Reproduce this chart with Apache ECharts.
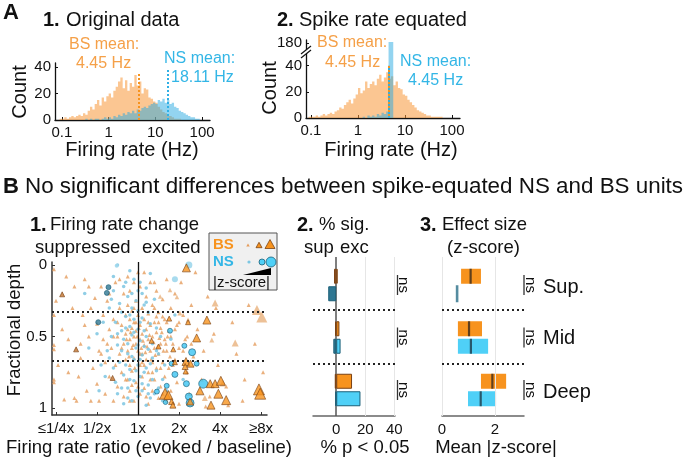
<!DOCTYPE html>
<html><head><meta charset="utf-8">
<script src="https://cdn.jsdelivr.net/npm/echarts@6/dist/echarts.min.js"></script>
<style>html,body{margin:0;padding:0;background:#fff}#c{width:697px;height:458px}</style>
</head><body><div id="c"></div><script>
// ---------------- DATA ----------------
const BIN_W = 0.05;                 // histogram bin width (log10 Hz)
const histTickHz = [0.1, 1, 10, 100];
const bsOrigStart = -1.10;
const bsOrigCounts = [0,1,1,2,1,2,3,2,3,4,3,5,4,7,10,8,12,15,11,17,14,18,20,17,22,25,29,32,24,30,22,28,25,34,26,29,20,24,23,17,16,14,13,10,8,6,5,3,3,2,1,1,1,0];
const nsOrigStart = -0.50;
const nsOrigCounts = [1,0,1,0,1,1,0,1,2,1,2,1,3,2,4,3,5,4,6,5,7,5,8,7,9,10,9,11,12,13,12,15,14,16,13,15,12,13,10,9,7,6,5,4,3,2,2,1,1,0];
const bsEqStart = -1.10;
const bsEqCounts = [0,1,1,1,2,1,2,3,2,3,4,3,5,6,8,7,10,12,14,11,15,18,23,19,21,28,23,26,28,25,30,33,28,31,35,30,32,25,28,23,22,18,17,14,12,10,8,6,5,4,3,2,2,1,1,1,1,1,0];
const nsEqStart = 0.10;
const nsEqCounts = [1,0,2,1,2,1,3,2,4,3,5,181,181,0];
const bsMeanHz = 4.45, nsMeanOrigHz = 18.11, nsMeanEqHz = 4.45;

// B1 scatter: [log2(evoked/baseline), fractional depth] ; sig / large ones carry |z| as third value
const ratioTicks = [-2,-1,0,1,2,3];
const ratioTickLabels = ['≤1/4x','1/2x','1x','2x','4x','≥8x'];
const depthTicks = [0, 0.5, 1];
const layerBounds = [1/3, 2/3];
const bsNonSig = [
[-2.05,0.03],[-2.05,0.35],[-2.05,0.56],[-2.05,0.59],[-2.05,0.80],[-2.05,0.82],[-2.0,0.25],[-1.95,0.70],[-1.85,0.45],[-1.75,0.08],
[-1.7,0.52],[-1.6,0.30],[-1.55,0.15],[-1.5,0.95],[-1.45,0.78],[-1.4,0.65],[-1.35,0.35],[-1.3,0.10],[-1.25,0.88],[-1.2,0.50],
[-1.15,0.95],[-1.1,0.72],[-1.05,0.23],[-1.0,0.41],[-1.0,0.83],[-0.95,0.60],[-1.55,0.93],[-1.8,0.94],[-1.3,0.42],[-1.15,0.30],
[-0.9,0.15],[-0.85,0.35],[-0.85,0.52],[-0.8,0.68],[-0.8,0.90],[-0.75,0.25],[-0.7,0.45],[-0.7,0.78],[-0.65,0.58],[-0.6,0.38],
[-0.6,0.95],[-0.55,0.12],[-0.55,0.70],[-0.5,0.50],[-0.5,0.85],[-0.45,0.30],[-0.45,0.62],[-0.4,0.42],[-0.4,0.75],[-0.35,0.20],
[-0.35,0.55],[-0.35,0.92],[-0.3,0.35],[-0.3,0.66],[-0.3,0.48],
[-0.25,0.08],[-0.25,0.28],[-0.25,0.45],[-0.25,0.60],[-0.25,0.80],[-0.2,0.18],[-0.2,0.38],[-0.2,0.52],[-0.2,0.70],[-0.2,0.88],
[-0.15,0.32],[-0.15,0.44],[-0.15,0.58],[-0.15,0.74],[-0.1,0.12],[-0.1,0.40],[-0.1,0.50],[-0.1,0.65],[-0.1,0.95],[-0.05,0.25],
[-0.05,0.46],[-0.05,0.55],[-0.05,0.82],[0,0.35],[0,0.60],[0.05,0.15],[0.05,0.42],[0.05,0.52],[0.05,0.70],[0.05,0.90],
[0.1,0.30],[0.1,0.48],[0.1,0.62],[0.1,0.78],[0.15,0.05],[0.15,0.38],[0.15,0.56],[0.15,0.86],[0.2,0.22],[0.2,0.45],
[0.2,0.66],[0.25,0.34],[0.25,0.52],[0.25,0.75],[0.25,0.97],[0.3,0.12],[0.3,0.42],[0.3,0.60],
[-0.28,0.52],[-0.22,0.64],[-0.18,0.47],[-0.12,0.56],[-0.08,0.72],[-0.02,0.50],[0.02,0.44],[0.08,0.58],[0.12,0.53],[0.18,0.61],
[0.22,0.57],[0.28,0.49],[0.32,0.66],[0.38,0.54],[0.42,0.63],[0.48,0.57],[0.52,0.51],[0.58,0.47],[0.62,0.60],[0.68,0.55],
[0.72,0.50],[0.78,0.64],[0.05,0.62],[-0.05,0.40],[0.15,0.70],[0.35,0.75],[0.45,0.36],[0.25,0.40],[-0.15,0.84],[0.55,0.72],
[0.35,0.28],[0.35,0.50],[0.35,0.68],[0.35,0.88],[0.4,0.40],[0.4,0.58],[0.4,0.80],[0.45,0.18],[0.45,0.47],[0.45,0.72],
[0.5,0.33],[0.5,0.62],[0.5,0.93],[0.55,0.44],[0.55,0.55],[0.55,0.85],[0.6,0.24],[0.6,0.68],[0.65,0.38],[0.65,0.52],
[0.65,0.78],[0.7,0.10],[0.7,0.60],[0.7,0.95],[0.75,0.46],[0.75,0.72],[0.8,0.30],[0.8,0.88],[0.85,0.55],[0.9,0.20],
[0.9,0.66],[0.95,0.42],[0.95,0.82],[1.0,0.58],[1.0,0.97],
[1.05,0.12],[1.1,0.35],[1.15,0.52],[1.2,0.75],[1.25,0.90],[1.3,0.28],[1.35,0.64],[1.4,0.05],[1.45,0.45],[1.55,0.80],
[1.6,0.60],[1.7,0.22],[1.75,0.92],[1.85,0.48],[1.95,0.70],[2.05,0.15],[2.15,0.85],[2.3,0.40],[2.4,0.62],[2.55,0.95],
[2.7,0.28],[2.85,0.55],[3.0,0.10],[3.05,0.75],[2.2,0.98],[1.65,0.99],[2.6,0.80],[1.9,0.30],
[-0.9,0.62],[-0.75,0.55],[-0.6,0.50],[-0.5,0.40],[-0.4,0.58],[-0.3,0.80],[-0.2,0.95],[-0.1,0.30],[0.0,0.85],[0.1,0.68],
[0.2,0.92],[0.3,0.80],[0.4,0.30],[0.5,0.40],[0.6,0.36],[0.7,0.40],[0.8,0.50],[0.85,0.70],[0.9,0.45],[1.0,0.40],
[1.1,0.60],[1.2,0.50],[1.3,0.55],[0.6,0.90],[-0.7,0.20],[-0.45,0.10],[0.0,0.05],[0.4,0.12],[-1.4,0.55],[-1.7,0.75],
[-1.2,0.15],[-0.95,0.95]];
const bsNonSigLarge = [[1.88,0.266,5],[2.37,0.545,5],[2.90,0.315,8],[3.02,0.364,9],[1.80,0.524,3],[2.07,0.825,5],[1.63,0.93,4],[1.22,0.385,3],[1.02,0.336,3],[0.95,0.224,2.5],[0.78,0.175,2.5],[0.54,0.22,2.5]];
const bsSig = [[1.18,0.02,6],[1.68,0.385,6],[1.43,0.51,6],[1.17,0.675,6],[1.15,0.71,4],[1.28,0.69,5],[1.16,0.745,3],[1.76,0.83,6],[1.88,0.83,6],[2.02,0.81,7],
[1.51,0.88,6],[1.96,0.90,7],[2.15,0.945,7],[1.78,0.98,6],[2.95,0.87,9],[2.98,0.90,9],[0.66,0.90,9],[0.74,0.91,7],[0.82,0.955,4],[1.27,0.955,5],
[0.85,0.98,4],[-1.85,0.205,3],[-1.51,0.59,3],[-0.62,0.79,3],[1.22,0.40,3],[0.76,0.375,3],[0.33,0.53,3],[0.86,0.59,3],[0.50,0.57,3],[0.90,0.68,3]];
const nsNonSig = [
[-0.5,0.0],[-0.2,0.04],[0.3,0.06],[-0.1,0.1],[0.05,0.12],[-0.35,0.15],[0.2,0.16],[-0.6,0.18],[0.1,0.2],[-0.25,0.22],
[-0.05,0.25],[0.4,0.24],[-0.45,0.27],[0.15,0.28],[-0.15,0.3],[0.0,0.32],[-0.7,0.3],[0.25,0.33],
[-0.3,0.36],[-0.1,0.38],[0.1,0.37],[-0.55,0.4],[0.3,0.41],[-0.2,0.43],[0.0,0.45],[-0.4,0.46],[0.45,0.44],[-0.65,0.5],
[-0.15,0.49],[0.2,0.5],[-0.35,0.52],[0.05,0.53],[0.35,0.55],[-0.5,0.56],[-0.05,0.58],[0.25,0.59],[-0.75,0.6],[-0.25,0.62],
[0.1,0.63],[0.5,0.62],[-0.1,0.66],
[-0.45,0.68],[0.0,0.7],[0.3,0.69],[-0.6,0.72],[-0.2,0.73],[0.15,0.75],[0.45,0.74],[-0.35,0.77],[0.05,0.78],[0.35,0.8],
[-0.1,0.81],[-0.8,0.78],[0.25,0.84],[-0.25,0.86],[0.5,0.86],[0.1,0.88],[-0.5,0.9],[0.0,0.92],[0.3,0.93],[-0.15,0.95],
[0.6,0.95],[0.2,0.98],[-0.35,0.97],[0.7,0.88],[0.65,0.70],[0.8,0.52],
[-1.2,0.58],[-1.0,0.48],[-0.9,0.7],[-1.3,0.2],[1.1,0.8],[0.9,0.35],[-0.95,0.88],
[-0.6,0.08],[-0.3,0.12],[0.0,0.18],[-0.15,0.2],[0.2,0.26],[-0.4,0.33],[-0.2,0.35],[0.05,0.4],[-0.3,0.44],[-0.1,0.47],
[0.15,0.46],[-0.5,0.48],[-0.25,0.55],[0.0,0.56],[0.15,0.57],[-0.4,0.6],[-0.15,0.64],[0.05,0.66],[0.35,0.65],[-0.3,0.7],
[-0.05,0.74],[0.2,0.72],[-0.55,0.82],[-0.2,0.8],[0.1,0.83],[0.4,0.9],[-0.4,0.86],[-0.05,0.88],[0.25,0.9],[-0.25,0.93],
[0.45,0.6],[0.55,0.5],[0.6,0.8],[-0.7,0.65],[-0.85,0.4],[-0.65,0.24]];
const nsNonSigLarge = [[1.24,0.0,5],[0.9,0.1,4],[-0.52,0.005,2]];
const nsSig = [[0.78,0.46,3],[1.13,0.565,3],[1.32,0.61,5],[1.43,0.69,3],[0.82,0.69,3],[0.90,0.765,4],[1.18,0.83,4],[1.59,0.83,7],
[0.70,0.845,3],[0.46,0.885,3],[1.24,0.92,5],[1.27,0.965,6],[0.67,0.96,2.5],[-0.72,0.155,3],[-0.76,0.195,3],[-0.97,0.40,3]];

// B2 : % significant (sup = suppressed, exc = excited)
const layerNames = ['Sup.','Mid','Deep'];
const bsPctSup = [1.5, 0.8, 1.0];
const bsPctExc = [1.0, 2.2, 10.9];
const nsPctSup = [5.5, 2.0, 0.5];
const nsPctExc = [0, 3.0, 16.7];
const pctTicks = [0, 20, 40];
// B3 : effect size, mean |z| with CI
const bsZMean = [1.08, 1.02, 1.90];
const bsZLo   = [0.72, 0.60, 1.47];
const bsZHi   = [1.47, 1.51, 2.42];
const nsZMean = [0.57, 1.09, 1.46];
const nsZLo   = [null, 0.60, 0.98];
const nsZHi   = [null, 1.74, 2.04];
const zTicks = [0, 2];

// ---------------- STYLE ----------------
const FONT = "'Liberation Sans', Arial, Helvetica, sans-serif";
const C = {
  bsArea:'rgba(247,152,56,0.55)', nsArea:'rgba(40,170,225,0.5)',
  bsText:'#f5a048', nsText:'#33b6e6',
  bs:'#f7931e', bsDark:'#c2722a', bsBorder:'#7a4214',
  ns:'#4fd0f7', nsDark:'#2f7792', nsBorder:'#1b5f78',
  bsTiny:'#e59c5c', nsTiny:'#7cc6e2', bsLight:'#ebba8c', nsLight:'#9fd7ec'
};
const chart = echarts.init(document.getElementById('c'), null, {renderer:'canvas'});

function stepData(start, counts){
  const d = counts.map((c,i)=>[start + i*BIN_W, c]);
  d.push([start + counts.length*BIN_W, 0]);
  return d;
}
const L10 = Math.log10;
// histogram drawn as one stepped polygon through the axis scales
function histSeries(xi, yi, start, counts, color){
  const pts = stepData(start, counts);
  return {type:'custom', xAxisIndex:xi, yAxisIndex:yi, data:pts, silent:true, z:2, encode:{x:0, y:1},
    renderItem:(params, api)=>{
      if (params.dataIndex !== 0) return null;
      const cs = params.coordSys;
      const cy = y => Math.max(cs.y, Math.min(cs.y + cs.height, y));
      const poly = [];
      const b0 = api.coord([pts[0][0], 0]); poly.push([b0[0], cy(b0[1])]);
      for (let i = 0; i < pts.length - 1; i++){
        const a = api.coord([pts[i][0], pts[i][1]]);
        const b = api.coord([pts[i+1][0], pts[i][1]]);
        poly.push([a[0], cy(a[1])], [b[0], cy(b[1])]);
      }
      const e = api.coord([pts[pts.length-1][0], 0]); poly.push([e[0], cy(e[1])]);
      return {type:'polygon', shape:{points:poly}, style:{fill:color}};
    }};
}
function vline(x, y0, y1, color, offset){
  return [{coord:[x,y0], lineStyle:{color, width:2, type:[2,2], dashOffset:offset||0}}, {coord:[x,y1]}];
}
const mlBase = {silent:true, symbol:['none','none'], label:{show:false}, animation:false};
function markSeries(xi, yi, data){
  return {type:'line', xAxisIndex:xi, yAxisIndex:yi, data:[[0,0]], symbol:'none', showSymbol:false,
    lineStyle:{opacity:0, width:0}, silent:true, z:5, markLine:Object.assign({}, mlBase, {data})};
}
const axLine = {show:true, onZero:false, lineStyle:{color:'#111', width:1.3}};
function histX(gi, min){
  return {gridIndex:gi, type:'value', min, max:2.17,
    axisLine:axLine, splitLine:{show:false},
    axisTick:{show:true, inside:true, length:3, customValues:histTickHz.map(L10), lineStyle:{color:'#111'}},
    axisLabel:{customValues:histTickHz.map(L10), formatter:v=>String(histTickHz[Math.round(v)+1]), fontSize:15, fontFamily:FONT, color:'#111', margin:5}};
}
function valY(gi, min, max, ticks){
  return {gridIndex:gi, type:'value', min, max, axisLine:axLine, splitLine:{show:false},
    axisTick:{show:true, inside:true, length:3, customValues:ticks, lineStyle:{color:'#111'}},
    axisLabel:{customValues:ticks, fontSize:15, fontFamily:FONT, color:'#111', margin:4}};
}

// B2 / B3 rows
const rowCats = ['Sup BS','Sup NS','g1','Mid BS','Mid NS','g2','Deep BS','Deep NS'];
function item(v, color, border){ return v === 0 ? '-' : {value:v, itemStyle:{color, borderColor:border, borderWidth:1}}; }
const b2Sup = [], b2Exc = [], b3Base = [], b3Span = [], b3Mean = [];
layerNames.forEach((n,i)=>{
  const r0 = b2Sup.length;
  b2Sup.push(item(-bsPctSup[i], C.bsDark, C.bsBorder)); b2Exc.push(item(bsPctExc[i], C.bs, C.bsBorder));
  b2Sup.push(item(-nsPctSup[i], C.nsDark, C.nsBorder)); b2Exc.push(item(nsPctExc[i], C.ns, C.nsBorder));
  b3Base.push(bsZLo[i]); b3Span.push({value:bsZHi[i]-bsZLo[i], itemStyle:{color:C.bs}});
  b3Base.push(nsZLo[i]===null?'-':nsZLo[i]);
  b3Span.push(nsZLo[i]===null?'-':{value:nsZHi[i]-nsZLo[i], itemStyle:{color:C.ns}});
  b3Mean.push({value:[bsZMean[i], r0], itemStyle:{color:'#3a2a1c'}, symbolSize:[2.2,15]});
  b3Mean.push({value:[nsZMean[i], r0+1], itemStyle:{color: nsZLo[i]===null ? '#2b6f88' : '#1d3a48'}, symbolSize: nsZLo[i]===null ? [2.6,17] : [2.2,15]});
  if (i < layerNames.length-1){ b2Sup.push('-'); b2Exc.push('-'); b3Base.push('-'); b3Span.push('-'); }
});

const dotStyle = {color:'#222', width:2, type:[2,3]};
const hLines = layerBounds.map(v=>({yAxis:v, lineStyle:dotStyle}));

// ---------------- GRAPHICS (text) ----------------
function T(x, y, s, size, o){
  o = o || {};
  return {type:'text', x, y, rotation:o.rot||0, z:100, silent:true,
    style:{text:s, x:0, y:0, fontSize:size, fontFamily:FONT, fontWeight:o.bold?'bold':'normal',
      fill:o.color||'#111', align:o.align||'left', verticalAlign:'middle'}};
}
function Ln(x1,y1,x2,y2,w,c){ return {type:'line', z:100, silent:true, shape:{x1,y1,x2,y2}, style:{stroke:c||'#333', lineWidth:w||1.5}}; }
function Tri(cx, cy, s, fill, stroke){
  const h = s*0.9;
  return {type:'polygon', z:101, silent:true, shape:{points:[[cx, cy-h/2],[cx+s/2, cy+h/2],[cx-s/2, cy+h/2]]}, style:{fill, stroke:stroke||null, lineWidth:stroke?0.8:0}};
}
function Cir(cx, cy, r, fill, stroke){ return {type:'circle', z:101, silent:true, shape:{cx,cy,r}, style:{fill, stroke:stroke||null, lineWidth:stroke?0.8:0}}; }

const graphics = [
  T(3,13,'A',22,{bold:true}),
  T(43,20,'1.',20,{bold:true}), T(66,20,'Original data',20),
  T(69,45,'BS mean:',16,{color:C.bsText}), T(76,64,'4.45 Hz',16,{color:C.bsText}),
  T(164,59,'NS mean:',16,{color:C.nsText}), T(171,78,'18.11 Hz',16,{color:C.nsText}),
  T(20,92,'Count',20,{rot:Math.PI/2,align:'center'}),
  T(132,150,'Firing rate (Hz)',20,{align:'center'}),
  T(277,20,'2.',20,{bold:true}), T(299,20,'Spike rate equated',20),
  T(317,43,'BS mean:',16,{color:C.bsText}), T(325,63,'4.45 Hz',16,{color:C.bsText}),
  T(400,62,'NS mean:',16,{color:C.nsText}), T(408,81,'4.45 Hz',16,{color:C.nsText}),
  T(270,88,'Count',20,{rot:Math.PI/2,align:'center'}),
  T(391,150,'Firing rate (Hz)',20,{align:'center'}),
  // axis break marks
  {type:'polygon', z:99, silent:true, shape:{points:[[301,54],[311,46],[311,50],[301,58]]}, style:{fill:'#fff'}},
  Ln(301,54,311,46,1.2,'#111'), Ln(301,58,311,50,1.2,'#111'),
  // B
  T(3,187,'B',22,{bold:true}),
  T(25,187,'No significant differences between spike-equated NS and BS units',22.4),
  T(30,225,'1.',20,{bold:true}), T(50,225,'Firing rate change',18.5),
  T(35,248,'suppressed',18.5), T(142,248,'excited',18.5),
  T(15,330,'Fractional depth',18.5,{rot:Math.PI/2,align:'center'}),
  T(149,448,'Firing rate ratio (evoked / baseline)',18.5,{align:'center'}),
  T(297,225,'2.',20,{bold:true}), T(319,225,'% sig.',18.5),
  T(304,248,'sup',18.5), T(340,248,'exc',18.5),
  T(365,448,'% p < 0.05',18.5,{align:'center'}),
  T(420,225,'3.',20,{bold:true}), T(442,225,'Effect size',18.5),
  T(447,248,'(z-score)',18.5),
  T(496,448,'Mean |z-score|',18.5,{align:'center'}),
  T(543,287,'Sup.',20), T(543,338,'Mid',20), T(543,392,'Deep',20),
  // legend
  {type:'rect', z:100, silent:true, shape:{x:209,y:233,width:68,height:57}, style:{fill:'#f0f0f0', stroke:'#555', lineWidth:1}},
  T(213,245,'BS',15,{bold:true,color:C.bs}),
  Tri(248,245,3.5,C.bsTiny), Tri(259,245,6,C.bs,C.bsBorder), Tri(270,244,10,C.bs,C.bsBorder),
  T(213,262,'NS',15,{bold:true,color:C.nsText}),
  Cir(249,262,1.6,C.nsTiny), Cir(262,262,3,C.ns,C.nsBorder), Cir(271,262,5,C.ns,C.nsBorder),
  {type:'polygon', z:101, silent:true, shape:{points:[[243,275],[271,275],[271,268]]}, style:{fill:'#000'}},
  T(213,283,'|z-score|',15)
];
[285,337.5,390].forEach(y=>{
  graphics.push(Ln(397.5,y-10,397.5,y+10,1.3,'#333'), T(403,y,'ns',15,{rot:-Math.PI/2,align:'center'}));
  graphics.push(Ln(524,y-10,524,y+10,1.3,'#333'), T(530,y,'ns',15,{rot:-Math.PI/2,align:'center'}));
});

// ---------------- OPTION ----------------
const frameX = (gi, min, max, ticks) => ({gridIndex:gi, type:'value', min, max,
  axisLine:{show:true, onZero:false, lineStyle:{color:'#666', width:1.5}}, splitLine:{show:false},
  axisTick:{show:false},
  axisLabel:{customValues:ticks, fontSize:15, fontFamily:FONT, color:'#111', margin:6}});
const hiddenX = (gi,min,max)=>({gridIndex:gi, type:'value', min, max, show:false, axisLine:{onZero:false}});
const hiddenCat = gi => ({gridIndex:gi, type:'category', data:rowCats, inverse:true, show:false, axisLine:{onZero:false}});
const hiddenY = gi => ({gridIndex:gi, type:'value', min:0, max:1, inverse:true, show:false, axisLine:{onZero:false}});

const option = {
  animation:false,
  textStyle:{fontFamily:FONT},
  grid:[
    {left:55, top:63, width:155, height:57},
    {left:306, top:53, width:154, height:65},
    {left:306, top:40, width:154, height:13},
    {left:52, top:262, width:215, height:153},
    {left:313, top:257, width:82, height:159},
    {left:313, top:267.5, width:82, height:140},
    {left:442, top:257, width:82, height:159},
    {left:442, top:267.5, width:82, height:140}
  ],
  xAxis:[
    histX(0, -1.149),
    histX(1, -1.106),
    hiddenX(2, -1.106, 2.17),
    {gridIndex:3, type:'value', min:-2.098, max:3.146,
      axisLine:{show:true, onZero:false, lineStyle:{color:'#333', width:1.5}}, splitLine:{show:false},
      axisTick:{show:true, inside:true, length:3, customValues:ratioTicks, lineStyle:{color:'#333'}},
      axisLabel:{customValues:ratioTicks, formatter:v=>ratioTickLabels[Math.round(v)+2], fontSize:15, fontFamily:FONT, color:'#111', margin:6}},
    frameX(4, -16, 40.5, pctTicks),
    hiddenX(5, -16, 40.5),
    frameX(6, 0, 3.094, zTicks),
    hiddenX(7, 0, 3.094)
  ],
  yAxis:[
    valY(0, 0, 43, [0,20,40]),
    valY(1, 0, 49.7, [0,20,40]),
    valY(2, 172.5, 182.5, [180]),
    {gridIndex:3, type:'value', min:-0.021, max:1.049, inverse:true,
      axisLine:{show:true, onZero:false, lineStyle:{color:'#333', width:1.5}}, splitLine:{show:false},
      axisTick:{show:true, inside:true, length:3, customValues:depthTicks, lineStyle:{color:'#333'}},
      axisLabel:{customValues:depthTicks, fontSize:15, fontFamily:FONT, color:'#111', margin:5}},
    hiddenY(4), hiddenCat(5), hiddenY(6), hiddenCat(7)
  ],
  graphic: graphics,
  series:[
    histSeries(0,0, bsOrigStart, bsOrigCounts, C.bsArea),
    histSeries(0,0, nsOrigStart, nsOrigCounts, C.nsArea),
    markSeries(0,0, [vline(L10(bsMeanHz),0,36,C.bs), vline(L10(nsMeanOrigHz),0,38,'#2fb0e6')]),
    histSeries(1,1, bsEqStart, bsEqCounts, C.bsArea),
    histSeries(1,1, nsEqStart, nsEqCounts, C.nsArea),
    histSeries(2,2, nsEqStart, nsEqCounts, C.nsArea),
    markSeries(1,1, [vline(L10(nsMeanEqHz),0,40,'#2fb0e6',0), vline(L10(bsMeanHz),0,40,C.bs,2)]),
    // B1 scatter
    {type:'scatter', xAxisIndex:3, yAxisIndex:3, data:bsNonSig, symbol:'triangle', symbolSize:4, silent:true,
      itemStyle:{color:C.bsTiny, opacity:0.8}, z:3},
    {type:'scatter', xAxisIndex:3, yAxisIndex:3, data:nsNonSig, symbol:'circle', symbolSize:3.5, silent:true,
      itemStyle:{color:C.nsTiny, opacity:0.85}, z:3},
    {type:'scatter', xAxisIndex:3, yAxisIndex:3, data:bsNonSigLarge, symbol:'triangle', symbolSize:v=>2+v[2], silent:true,
      itemStyle:{color:C.bsLight, opacity:0.9}, z:3},
    {type:'scatter', xAxisIndex:3, yAxisIndex:3, data:nsNonSigLarge, symbol:'circle', symbolSize:v=>2+v[2], silent:true,
      itemStyle:{color:C.nsLight, opacity:0.9}, z:3},
    {type:'scatter', xAxisIndex:3, yAxisIndex:3, data:nsSig, symbol:'circle', symbolSize:v=>2+v[2], silent:true,
      itemStyle:{color:p=>p.value[0]<0?C.nsDark:'#3cc4f2', borderColor:C.nsBorder, borderWidth:0.8}, z:4},
    {type:'scatter', xAxisIndex:3, yAxisIndex:3, data:bsSig, symbol:'triangle', symbolSize:v=>2+v[2], silent:true,
      itemStyle:{color:p=>p.value[0]<0?C.bsDark:C.bs, borderColor:C.bsBorder, borderWidth:0.8}, z:4},
    markSeries(3,3, [{xAxis:0, lineStyle:{color:'#111', width:1.3, type:'solid'}}].concat(hLines)),
    // B2
    markSeries(4,4, [
      {xAxis:20, lineStyle:{color:'#e6e6e6', width:1, type:'solid'}},
      {xAxis:40, lineStyle:{color:'#e6e6e6', width:1, type:'solid'}},
      {xAxis:0, lineStyle:{color:'#555', width:1.5, type:'solid'}}
    ].concat(hLines)),
    {type:'bar', xAxisIndex:5, yAxisIndex:5, stack:'pct', data:b2Sup, barWidth:15, silent:true, z:5},
    {type:'bar', xAxisIndex:5, yAxisIndex:5, stack:'pct', data:b2Exc, barWidth:15, silent:true, z:5},
    // B3
    markSeries(6,6, [
      {xAxis:0, lineStyle:{color:'#e6e6e6', width:1, type:'solid'}},
      {xAxis:2, lineStyle:{color:'#e6e6e6', width:1, type:'solid'}}
    ].concat(hLines)),
    {type:'bar', xAxisIndex:7, yAxisIndex:7, stack:'ci', data:b3Base, barWidth:15, silent:true, itemStyle:{color:'rgba(0,0,0,0)'}},
    {type:'bar', xAxisIndex:7, yAxisIndex:7, stack:'ci', data:b3Span, barWidth:15, silent:true},
    {type:'scatter', xAxisIndex:7, yAxisIndex:7, data:b3Mean, symbol:'rect', silent:true, z:6}
  ]
};
chart.setOption(option);
</script></body></html>
